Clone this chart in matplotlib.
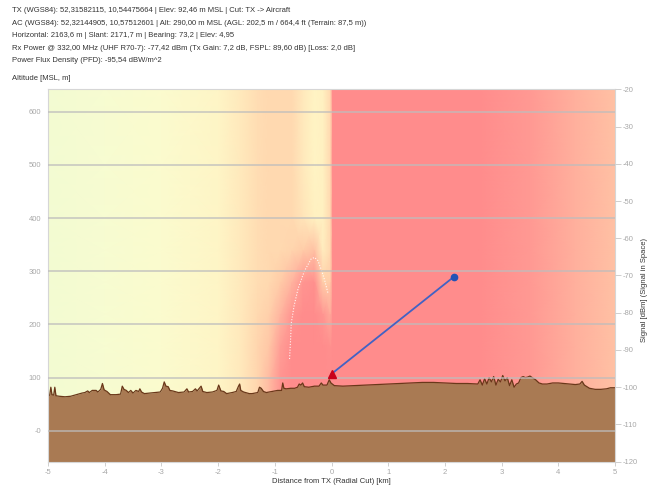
import numpy as np
import matplotlib
matplotlib.use("Agg")
import matplotlib.pyplot as plt
from matplotlib.colors import LinearSegmentedColormap, Normalize

plt.rcParams['font.family'] = ['Liberation Sans', 'DejaVu Sans']
plt.rcParams['axes.unicode_minus'] = False

# ---- header information ----
header_lines = [
    "TX (WGS84): 52,31582115, 10,54475664 | Elev: 92,46 m MSL | Cut: TX -> Aircraft",
    "AC (WGS84): 52,32144905, 10,57512601 | Alt: 290,00 m MSL (AGL: 202,5 m / 664,4 ft (Terrain: 87,5 m))",
    "Horizontal: 2163,6 m | Slant: 2171,7 m | Bearing: 73,2 | Elev: 4,95",
    "Rx Power @ 332,00 MHz (UHF R70-7): -77,42 dBm (Tx Gain: 7,2 dB, FSPL: 89,60 dB) [Loss: 2,0 dB]",
    "Power Flux Density (PFD): -95,54 dBW/m^2",
]
alt_title = "Altitude [MSL, m]"
x_title = "Distance from TX (Radial Cut) [km]"
sig_title = "Signal [dBm] (Signal in Space)"

# ---- axes ticks ----
x_ticks = [-5, -4, -3, -2, -1, 0, 1, 2, 3, 4, 5]
alt_ticks = [0, 100, 200, 300, 400, 500, 600]
alt_tick_labels = ["-0", "100", "200", "300", "400", "500", "600"]
sig_ticks = [-120, -110, -100, -90, -80, -70, -60, -50, -40, -30, -20]

# ---- transmitter / aircraft ----
tx_dist_km = 0.0
tx_alt_m = 107.0
ac_dist_km = 2.1636
ac_alt_m = 290.0

# ---- signal field (dBm) sampled on distance / altitude nodes ----
sig_x = [-5, -4, -3, -2, -1.6, -1.3, -1.1, -0.9, -0.7, -0.5, -0.3, -0.15, -0.02,
         0.02, 1, 2, 2.6, 3.5, 4.3, 5]
sig_alt = [-60, 100, 160, 220, 280, 340, 400, 500, 645]
sig_dbm = [
    [-110, -107, -103, -99, -95, -90, -85, -78, -75, -75, -75, -75, -76, -74, -74, -75, -76, -79, -83, -86],
    [-110, -107, -103, -99, -95, -90, -85, -78, -75, -75, -75, -75, -76, -74, -74, -75, -76, -79, -83, -86],
    [-110, -107, -103, -99, -95, -90, -87, -80, -76, -75, -75, -75, -77, -74, -74, -75, -76, -79, -83, -86],
    [-110, -107, -103, -99, -95, -91, -89, -84, -78, -75, -75, -78, -82, -74, -74, -75, -76, -79, -83, -86],
    [-110, -107, -103, -99, -95, -92, -91, -88, -84, -78, -77, -89, -88, -74, -74, -75, -76, -79, -83, -86],
    [-110, -107, -103, -99, -95, -92, -91, -91, -90, -88, -86, -96, -91, -74, -74, -75, -76, -79, -83, -86],
    [-110, -107, -103, -99, -95, -92, -91, -91, -91, -94, -97, -97, -91, -74, -74, -75, -76, -79, -83, -86],
    [-110, -107, -103, -99, -95, -92, -91, -91, -91, -95, -98, -97, -91, -74, -74, -75, -76, -79, -83, -86],
    [-110, -107, -103, -99, -95, -92, -91, -91, -91, -95, -98, -97, -91, -74, -74, -75, -76, -79, -83, -86],
]

# colour scale for the signal field
cmap_levels = [-112, -104, -98, -93, -88, -84, -80, -76]
cmap_colors = ['#f1fbd2', '#fafcd0', '#fff4c4', '#ffe2b6', '#ffcca8', '#ffb6a0', '#ff9e96', '#ff8c8c']

# dotted contour of the upper lobe
lobe_x = [-0.74, -0.72, -0.71, -0.66, -0.59, -0.48, -0.36, -0.30, -0.24, -0.18, -0.12, -0.06]
lobe_alt = [135, 175, 202, 235, 267, 300, 323, 326, 320, 303, 283, 258]

# ---- terrain profile ----
terrain_x = [
    -5.00, -4.97, -4.95, -4.93, -4.90, -4.88, -4.86, -4.80, -4.70, -4.60, -4.50, -4.40, -4.35, -4.30,
    -4.27, -4.22, -4.15, -4.12, -4.07, -4.04, -4.01, -3.96, -3.90, -3.80, -3.72, -3.69, -3.66, -3.62,
    -3.58, -3.54, -3.50, -3.45, -3.40, -3.38, -3.35, -3.30, -3.20, -3.10, -3.02, -2.98, -2.95, -2.92,
    -2.88, -2.85, -2.80, -2.70, -2.60, -2.55, -2.52, -2.45, -2.40, -2.37, -2.33, -2.30, -2.27, -2.20,
    -2.10, -2.02, -1.99, -1.95, -1.90, -1.85, -1.80, -1.75, -1.68, -1.64, -1.62, -1.60, -1.55, -1.45,
    -1.40, -1.30, -1.27, -1.24, -1.20, -1.15, -1.05, -0.95, -0.88, -0.86, -0.84, -0.80, -0.72, -0.65,
    -0.60, -0.57, -0.54, -0.51, -0.48, -0.40, -0.30, -0.22, -0.18, -0.15, -0.08, -0.04, -0.01, 0.05,
    0.20, 0.40, 0.60, 0.80, 1.00, 1.20, 1.40, 1.60, 1.80, 2.00, 2.20, 2.40, 2.58, 2.62, 2.66, 2.70,
    2.74, 2.78, 2.82, 2.86, 2.90, 2.94, 2.98, 3.02, 3.06, 3.10, 3.14, 3.18, 3.22, 3.26, 3.30, 3.34,
    3.38, 3.42, 3.46, 3.50, 3.54, 3.60, 3.66, 3.72, 3.80, 3.90, 4.00, 4.10, 4.20, 4.30, 4.38, 4.42,
    4.46, 4.55, 4.65, 4.75, 4.85, 4.92, 5.00,
]
terrain_m = [
    66, 67, 82, 68, 67, 82, 66, 65, 64, 65, 68, 71, 72, 75,
    72, 76, 76, 73, 78, 89, 77, 74, 68, 68, 69, 84, 78, 76,
    72, 76, 71, 76, 74, 79, 73, 70, 71, 72, 73, 80, 92, 84,
    83, 76, 75, 72, 73, 79, 73, 74, 79, 75, 80, 84, 74, 72,
    73, 76, 86, 75, 74, 70, 71, 72, 74, 84, 88, 76, 73, 70,
    70, 72, 82, 80, 74, 72, 74, 76, 76, 90, 80, 79, 80, 80,
    82, 88, 86, 90, 83, 82, 84, 84, 90, 86, 86, 96, 90, 85,
    84, 85, 86, 87, 88, 89, 90, 91, 91, 90, 89, 89, 88, 96, 86, 98,
    88, 100, 92, 102, 86, 97, 92, 104, 94, 100, 85, 96, 82, 88, 90, 100,
    102, 100, 101, 103, 100, 96, 90, 88, 88, 90, 90, 89, 88, 87, 88, 93,
    86, 80, 78, 78, 79, 81, 81,
]

x_min, x_max = -5, 5
alt_min, alt_max = -58, 642
sig_min, sig_max = -120, -20

fig = plt.figure(figsize=(6.54, 4.9), dpi=100)
ax = fig.add_axes([48 / 654, 1 - 461.7 / 490, (615 - 48) / 654, (461.7 - 89.3) / 490])

# signal field background
norm = Normalize(cmap_levels[0], cmap_levels[-1])
pos = [(v - cmap_levels[0]) / (cmap_levels[-1] - cmap_levels[0]) for v in cmap_levels]
cmap = LinearSegmentedColormap.from_list("sig", list(zip(pos, cmap_colors)))
gx, gy = np.meshgrid(sig_x, sig_alt)
ax.pcolormesh(gx, gy, np.array(sig_dbm, dtype=float), shading='gouraud',
              cmap=cmap, norm=norm, zorder=0)

# lobe contour
ax.plot(lobe_x, lobe_alt, color='white', lw=0.8, ls=(0, (1, 1.5)), alpha=0.9, zorder=1)

# terrain
ax.fill_between(terrain_x, alt_min, terrain_m, color='#a97a53', lw=0, zorder=2)
ax.plot(terrain_x, terrain_m, color='#6a381a', lw=0.9, zorder=2.5)

# horizontal grid
for t in alt_ticks:
    ax.axhline(t, color='#bdbdbd', lw=1.2, alpha=0.8, zorder=3)

# TX -> aircraft path
ax.plot([tx_dist_km, ac_dist_km], [tx_alt_m, ac_alt_m], color='#4262c4', lw=1.3, zorder=4)
ax.plot([ac_dist_km], [ac_alt_m], 'o', color='#2353b5', ms=4.5, zorder=5)
ax.plot([tx_dist_km], [tx_alt_m], '^', color='#c8001a', ms=5.5, zorder=5)

ax.set_xlim(x_min, x_max)
ax.set_ylim(alt_min, alt_max)
ax.set_xticks(x_ticks)
ax.set_xticklabels([str(v) for v in x_ticks])
ax.set_yticks(alt_ticks)
ax.set_yticklabels(alt_tick_labels)
ax.tick_params(axis='x', length=3, width=0.6, color='#c8c8c8', labelsize=5.5,
               labelcolor='#a8a8a8', pad=2)
ax.tick_params(axis='y', length=0, labelsize=5.5, labelcolor='#a8a8a8', pad=5)
for s in ax.spines.values():
    s.set_color('#d6d6d6')
    s.set_linewidth(0.8)

ax2 = ax.twinx()
ax2.set_ylim(sig_min, sig_max)
ax2.set_yticks(sig_ticks)
ax2.set_yticklabels([str(v) for v in sig_ticks])
ax2.tick_params(axis='y', length=4, width=0.6, color='#c8c8c8', labelsize=5.5,
                labelcolor='#a8a8a8', pad=1.5)
for s in ax2.spines.values():
    s.set_visible(False)

# texts
for i, line in enumerate(header_lines):
    fig.text(12 / 654, 1 - (10.5 + 12.6 * i) / 490, line, fontsize=5.5, color='#333333',
             ha='left', va='center')
fig.text(12 / 654, 1 - 78.5 / 490, alt_title, fontsize=5.5, color='#333333', ha='left', va='center')
fig.text(331 / 654, 1 - 481 / 490, x_title, fontsize=5.5, color='#333333', ha='center', va='center')
fig.text(645 / 654, 1 - 290 / 490, sig_title, fontsize=5.5, color='#333333', ha='center',
         va='center', rotation=90)

fig.savefig("out.png", dpi=100)
